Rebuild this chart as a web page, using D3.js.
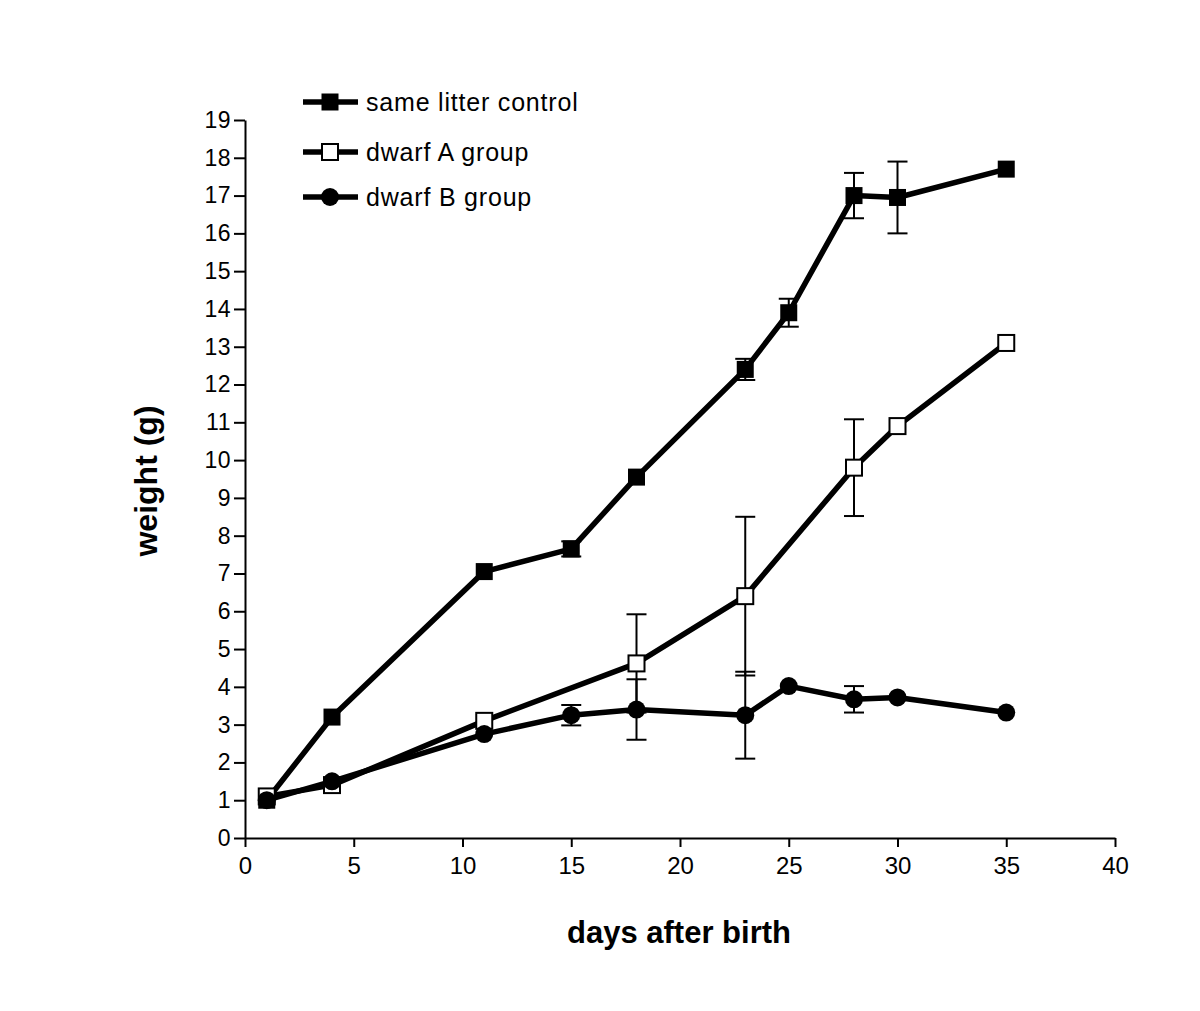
<!DOCTYPE html>
<html><head><meta charset="utf-8">
<script src="https://cdn.jsdelivr.net/npm/d3@7"></script>
<style>body{margin:0;background:#fff}svg{display:block}</style>
</head><body><div id="chart"></div>
<script>
const controlDays = [1, 4, 11, 15, 18, 23, 25, 28, 30, 35];
const controlWeight = [1.0, 3.2, 7.05, 7.65, 9.55, 12.4, 13.9, 17.0, 16.95, 17.7];
const controlErr = [0, 0, 0, 0.2, 0, 0.28, 0.37, 0.6, 0.95, 0];
const dwarfADays = [1, 4, 11, 18, 23, 28, 30, 35];
const dwarfAWeight = [1.1, 1.4, 3.1, 4.62, 6.4, 9.8, 10.9, 13.1];
const dwarfAErr = [0, 0, 0, 1.3, 2.1, 1.28, 0, 0];
const dwarfBDays = [1, 4, 11, 15, 18, 23, 25, 28, 30, 35];
const dwarfBWeight = [1.0, 1.5, 2.75, 3.25, 3.4, 3.25, 4.02, 3.67, 3.72, 3.32];
const dwarfBErr = [0, 0, 0, 0.27, 0.8, 1.15, 0, 0.35, 0, 0];
const seriesNames = ["same litter control", "dwarf A group", "dwarf B group"];
const xTicks = [0, 5, 10, 15, 20, 25, 30, 35, 40];
const yTicks = d3.range(0, 20);

const W = 1200, H = 1011;
const FONT = "'Liberation Sans', Arial, Helvetica, sans-serif";
const svg = d3.select("#chart").append("svg").attr("width", W).attr("height", H);
const x = d3.scaleLinear().domain([0, 40]).range([245, 1115]);
const y = d3.scaleLinear().domain([0, 19]).range([838, 120]);

// axes
const xAxis = svg.append("g").attr("transform", "translate(0,838)")
  .call(d3.axisBottom(x).tickValues(xTicks).tickSize(9).tickSizeOuter(0).tickPadding(10));
xAxis.selectAll("text").attr("font-family", FONT).attr("font-size", 24).attr("fill", "#000");
const yAxis = svg.append("g").attr("transform", "translate(245,0)")
  .call(d3.axisLeft(y).tickValues(yTicks).tickSize(11).tickSizeOuter(0).tickPadding(3));
yAxis.selectAll("text").attr("font-family", FONT).attr("font-size", 23).attr("letter-spacing", 0.5).attr("fill", "#000");
svg.selectAll(".domain, .tick line").attr("stroke", "#000").attr("stroke-width", 2);

svg.append("text").attr("x", 679).attr("y", 943).attr("text-anchor", "middle")
  .attr("font-family", FONT).attr("font-weight", "bold").attr("font-size", 31).text("days after birth");
svg.append("text").attr("transform", "translate(157,481) rotate(-90)").attr("text-anchor", "middle")
  .attr("font-family", FONT).attr("font-weight", "bold").attr("font-size", 32).text("weight (g)");

const series = [
  {name: seriesNames[0], xs: controlDays, ys: controlWeight, es: controlErr, marker: "fsq"},
  {name: seriesNames[1], xs: dwarfADays, ys: dwarfAWeight, es: dwarfAErr, marker: "osq"},
  {name: seriesNames[2], xs: dwarfBDays, ys: dwarfBWeight, es: dwarfBErr, marker: "circ"}
];
const line = d3.line().x(d => x(d[0])).y(d => y(d[1]));

function drawMarker(g, type, cx, cy) {
  if (type === "fsq") g.append("rect").attr("x", cx - 8.5).attr("y", cy - 8.5).attr("width", 17).attr("height", 17).attr("fill", "#000");
  else if (type === "osq") g.append("rect").attr("x", cx - 8).attr("y", cy - 8).attr("width", 16).attr("height", 16).attr("fill", "#fff").attr("stroke", "#000").attr("stroke-width", 2);
  else g.append("circle").attr("cx", cx).attr("cy", cy).attr("r", 9).attr("fill", "#000");
}

// error bars
series.forEach(s => {
  const g = svg.append("g");
  s.xs.forEach((d, i) => {
    const e = s.es[i]; if (!e) return;
    const cx = x(d), y1 = y(s.ys[i] + e), y2 = y(s.ys[i] - e);
    g.append("line").attr("x1", cx).attr("x2", cx).attr("y1", y1).attr("y2", y2).attr("stroke", "#000").attr("stroke-width", 2);
    [y1, y2].forEach(yy => g.append("line").attr("x1", cx - 10).attr("x2", cx + 10).attr("y1", yy).attr("y2", yy).attr("stroke", "#000").attr("stroke-width", 2));
  });
});
// lines and markers
series.forEach(s => {
  const pts = s.xs.map((d, i) => [d, s.ys[i]]);
  svg.append("path").datum(pts).attr("d", line).attr("fill", "none").attr("stroke", "#000").attr("stroke-width", 5.5).attr("stroke-linejoin", "round");
});
series.forEach(s => {
  const g = svg.append("g");
  s.xs.forEach((d, i) => drawMarker(g, s.marker, x(d), y(s.ys[i])));
});

// legend
const legY = [102, 152, 197];
series.forEach((s, i) => {
  const g = svg.append("g");
  g.append("line").attr("x1", 303).attr("x2", 358).attr("y1", legY[i]).attr("y2", legY[i]).attr("stroke", "#000").attr("stroke-width", 5.5);
  drawMarker(g, s.marker, 330, legY[i]);
  g.append("text").attr("x", 366).attr("y", legY[i] + 9).attr("font-family", FONT)
    .attr("font-size", 25).attr("letter-spacing", 0.8).attr("fill", "#000").text(s.name);
});
</script></body></html>
